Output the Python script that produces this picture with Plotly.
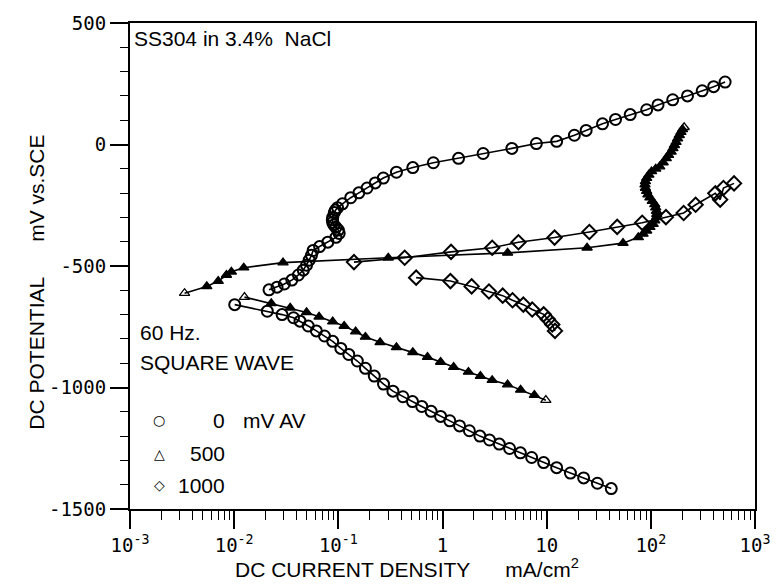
import plotly.graph_objects as go

# ---------------- data (current density mA/cm^2, potential mV vs SCE) ----------------
# 0 mV AV (circles)
c_anod_i = [0.0216, 0.0258, 0.0303, 0.0358, 0.0414, 0.0461, 0.0495, 0.0525, 0.0552, 0.0573,
            0.0661, 0.0793, 0.0948, 0.1019, 0.100, 0.0948, 0.0905, 0.0883, 0.0875, 0.0883,
            0.0914, 0.094, 0.0984, 0.1096, 0.1315, 0.1574, 0.1888, 0.2259, 0.2704, 0.3614,
            0.5188, 0.8166, 1.426, 2.455, 4.634, 7.962, 12.47, 18.45, 23.93, 34.36,
            45.81, 63.39, 91.2, 117.2, 162.2, 224.9, 311.2, 400.9, 516.4]
c_anod_e = [-598, -587, -574, -558, -537, -517, -497, -476, -456, -436,
            -420, -402, -382, -366, -352, -341, -331, -321, -310, -300,
            -280, -270, -260, -244, -219, -199, -179, -158, -138, -114,
            -95, -75, -57, -37, -16, 4, 13, 38, 58, 85,
            103, 123, 143, 163, 184, 200, 221, 238, 257]
c_cath_i = [0.01012, 0.0208, 0.02884, 0.03715, 0.04285, 0.0514, 0.06152, 0.07362, 0.08831, 0.1057,
            0.1259, 0.1521, 0.182, 0.2213, 0.2716, 0.3342, 0.4169, 0.5152, 0.6324, 0.778,
            0.9594, 1.175, 1.459, 1.811, 2.286, 2.825, 3.508, 4.406, 5.598, 7.178,
            9.354, 12.47, 16.9, 22.65, 30.69, 41.69]
c_cath_e = [-659, -686, -700, -713, -727, -747, -767, -788, -810, -839,
            -864, -891, -921, -953, -986, -1015, -1038, -1058, -1078, -1098,
            -1119, -1137, -1158, -1178, -1200, -1216, -1233, -1251, -1269, -1288,
            -1309, -1330, -1352, -1372, -1394, -1416]

# 500 mV AV (triangles)
t_anod_i = [0.00334, 0.00546, 0.00703, 0.00843, 0.0094, 0.01236, 0.02944, 0.3013, 4.217, 24.43,
            54.08, 75.86, 84.14, 91.2, 97.95, 105.2, 109.1, 113.2, 114.0, 113.2,
            111.4, 109.1, 103.3, 97.95, 93.76, 91.2, 88.72, 87.9, 88.72, 91.2,
            95.72, 101.6, 111.4, 121.6, 131.2, 140.6, 147.9, 156.7, 162.9, 168.3,
            174.6, 180.7, 187.5, 194.5, 201.4, 208.9]
t_anod_e = [-612, -584, -562, -537, -524, -507, -486, -466, -446, -425,
            -406, -382, -368, -355, -340, -328, -313, -300, -287, -274,
            -260, -246, -233, -219, -206, -192, -179, -165, -152, -138,
            -125, -111, -100, -91, -74, -57, -44, -30, -16, -3,
            10, 24, 38, 51, 62, 71]
t_cath_i = [0.01256, 0.0227, 0.03451, 0.04955, 0.06531, 0.08831, 0.1138, 0.1466, 0.182, 0.2518,
            0.3614, 0.5188, 0.7178, 0.9594, 1.279, 1.774, 2.312, 2.999, 4.217, 5.623,
            7.621, 9.817]
t_cath_e = [-628, -654, -672, -691, -709, -729, -747, -770, -792, -814,
            -835, -855, -875, -895, -916, -936, -953, -970, -988, -1010,
            -1031, -1052]

# 1000 mV AV (diamonds)
d_anod_i = [0.1413, 0.4335, 1.208, 2.999, 5.358, 11.91, 25.7, 47.53, 82.6, 139.6,
            206.5, 269.2, 415.9, 463.4, 497.7, 629.5]
d_anod_e = [-484, -466, -442, -425, -402, -383, -360, -339, -322, -299,
            -282, -248, -201, -227, -179, -160]
d_cath_i = [0.5585, 1.191, 1.905, 2.793, 3.784, 4.699, 5.97, 7.261, 9.354, 10.26,
            11.32, 12.02]
d_cath_e = [-548, -562, -584, -605, -622, -641, -659, -679, -699, -719,
            -741, -767]

x_tickvals = [1e-3, 1e-2, 1e-1, 1, 10, 100, 1000]
x_ticktext = ["10<sup>-3</sup>", "10<sup>-2</sup>", "10<sup>-1</sup>", "1", "10",
              "10<sup>2</sup>", "10<sup>3</sup>"]
y_tickvals = [-1500, -1000, -500, 0, 500]
y_ticktext = ["-1500", "-1000", "-500", "0", "500"]

legend_syms = ["\u25cb", "\u25b3", "\u25c7"]
legend_nums = ["0", "500", "1000"]

# ---------------- figure ----------------
fig = go.Figure()
LINE = dict(color="black", width=1.6)


def tri_symbols(n):
    s = ["triangle-up"] * n
    s[0] = "triangle-up-open"
    s[-1] = "triangle-up-open"
    return s


CIRC = dict(symbol="circle-open", size=11, color="black", line=dict(width=2, color="black"))
DIAM = dict(symbol="diamond-open", size=11, color="black", line=dict(width=2, color="black"))

fig.add_trace(go.Scatter(x=c_anod_i, y=c_anod_e, mode="lines+markers", line=LINE, marker=CIRC))
fig.add_trace(go.Scatter(x=c_cath_i, y=c_cath_e, mode="lines+markers", line=LINE, marker=CIRC))
fig.add_trace(go.Scatter(x=t_anod_i, y=t_anod_e, mode="lines+markers", line=LINE,
                         marker=dict(symbol=tri_symbols(len(t_anod_i)), size=9, color="black",
                                     line=dict(width=1.3, color="black"))))
fig.add_trace(go.Scatter(x=t_cath_i, y=t_cath_e, mode="lines+markers", line=LINE,
                         marker=dict(symbol=tri_symbols(len(t_cath_i)), size=9, color="black",
                                     line=dict(width=1.3, color="black"))))
fig.add_trace(go.Scatter(x=d_anod_i, y=d_anod_e, mode="lines+markers", line=LINE, marker=DIAM))
fig.add_trace(go.Scatter(x=d_cath_i, y=d_cath_e, mode="lines+markers", line=LINE, marker=DIAM))

minor_x = [k * 10.0 ** d for d in range(-3, 3) for k in range(2, 10)]

TICKFONT = dict(family="DejaVu Sans Mono", size=19, color="black")
TXT = "Liberation Sans, Arial, sans-serif"

fig.update_layout(
    width=782, height=587,
    margin=dict(l=130, r=15, t=16, b=78),
    paper_bgcolor="white", plot_bgcolor="white",
    showlegend=False,
    xaxis=dict(type="log", range=[-3, 3], tickvals=x_tickvals, ticktext=x_ticktext,
               ticks="outside", ticklen=18, tickwidth=1.6, tickcolor="black",
               showline=True, linewidth=2, linecolor="black", mirror=True,
               showgrid=False, zeroline=False, tickfont=TICKFONT,
               ticklabeloverflow="allow",
               minor=dict(tickvals=minor_x, ticks="outside", ticklen=9, tickwidth=1.4,
                          tickcolor="black", showgrid=False)),
    yaxis=dict(range=[-1500, 500], tickvals=y_tickvals, ticktext=y_ticktext,
               ticks="outside", ticklen=18, tickwidth=1.6, tickcolor="black",
               showline=True, linewidth=2, linecolor="black", mirror=True,
               showgrid=False, zeroline=False, tickfont=TICKFONT,
               ticklabeloverflow="allow",
               minor=dict(dtick=100, ticks="outside", ticklen=8, tickwidth=1.4,
                          tickcolor="black", showgrid=False)),
)

NB = "\u00a0"
ann = []
ann.append(dict(text="DC POTENTIAL" + NB * 6 + "mV vs.SCE", xref="paper", yref="paper",
                x=-0.149, y=0.4675, xanchor="center", yanchor="middle", textangle=-90,
                showarrow=False, font=dict(family=TXT, size=21, color="black")))
ann.append(dict(text="DC CURRENT DENSITY" + NB * 6 + "mA/cm<sup>2</sup>", xref="paper",
                yref="paper", x=0.4435, y=-0.122, xanchor="center", yanchor="middle",
                showarrow=False, font=dict(family=TXT, size=21, color="black")))
ann.append(dict(text="SS304 in 3.4%" + NB * 2 + "NaCl", xref="paper", yref="paper",
                x=0.003, y=0.9686, xanchor="left", yanchor="middle", showarrow=False,
                font=dict(family=TXT, size=21, color="black")))
ann.append(dict(text="60 Hz.", xref="paper", yref="paper", x=0.0126, y=0.3631,
                xanchor="left", yanchor="middle", showarrow=False,
                font=dict(family=TXT, size=21, color="black")))
ann.append(dict(text="SQUARE WAVE", xref="paper", yref="paper", x=0.0126, y=0.3022,
                xanchor="left", yanchor="middle", showarrow=False,
                font=dict(family=TXT, size=21, color="black")))
leg_y = [0.1826, 0.1136, 0.0487]
for sym, num, yy in zip(legend_syms, legend_nums, leg_y):
    ann.append(dict(text=sym, xref="paper", yref="paper", x=0.0471, y=yy,
                    xanchor="center", yanchor="middle", showarrow=False,
                    font=dict(family="DejaVu Sans", size=14, color="black")))
    ann.append(dict(text=num, xref="paper", yref="paper", x=0.1554, y=yy,
                    xanchor="right", yanchor="middle", showarrow=False,
                    font=dict(family=TXT, size=21, color="black")))
ann.append(dict(text="mV AV", xref="paper", yref="paper", x=0.1774, y=leg_y[0],
                xanchor="left", yanchor="middle", showarrow=False,
                font=dict(family=TXT, size=21, color="black")))
fig.update_layout(annotations=ann)

fig.write_html("out.html")
